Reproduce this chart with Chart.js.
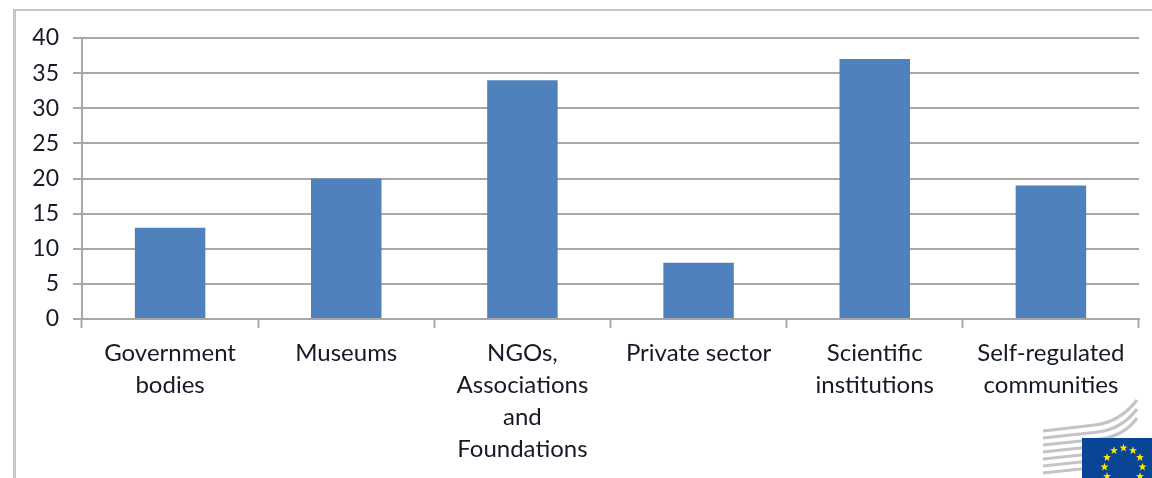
<!DOCTYPE html>
<html>
<head>
<meta charset="utf-8">
<title>Organisations by type</title>
<script src="https://cdn.jsdelivr.net/npm/chart.js@4/dist/chart.umd.min.js"></script>
<style>
    html, body { margin: 0; padding: 0; background: #fff; overflow: hidden; }
    #wrap { position: relative; width: 1152px; height: 478px; }
    #frame {
        position: absolute; left: 13px; top: 9px; right: 0; bottom: 0;
        border-left: 3px solid #c6c6c6; border-top: 2px solid #c6c6c6;
    }
    #bars { position: absolute; left: 0; top: 0; width: 1152px; height: 478px; filter: blur(0.4px); }
    #logo { position: absolute; left: 1040px; top: 398px; filter: blur(0.3px); }
</style>
</head>
<body>
<div id="wrap">
    <div id="frame"></div>
    <canvas id="bars" width="1152" height="478"></canvas>
    <svg id="logo" width="112" height="80" viewBox="1040 398 112 80">
        <g fill="none" stroke="#c4c4c4" stroke-width="3.2">
            <path d="M1043 431 L1095 425 Q1120 422 1137 400"/>
            <path d="M1043 438 L1098 432 Q1122 429 1137 409"/>
            <path d="M1043 445 L1100 439 Q1124 436 1137 418"/>
            <path d="M1043 452 L1090 447"/>
            <path d="M1043 459 L1090 454"/>
            <path d="M1043 466 L1090 461"/>
            <path d="M1043 473 L1090 468"/>
        </g>
        <rect x="1082" y="438" width="70" height="40" fill="#0a4595"/>
        <g id="stars" fill="#ffe600"></g>
    </svg>
</div>
<script>
const categories = [
    ['Government', 'bodies'],
    'Museums',
    ['NGOs,', 'Associations', 'and', 'Foundations'],
    'Private sector',
    ['Scientific', 'institutions'],
    ['Self-regulated', 'communities']
];
const seriesValues = [13, 20, 34, 8, 37, 19];
const yTickLabels = [0, 5, 10, 15, 20, 25, 30, 35, 40];

// EU flag stars for the logo in the corner
function drawStars() {
    const group = document.getElementById('stars');
    let markup = '';
    for (let i = 0; i < 12; i++) {
        const angle = i * Math.PI / 6;
        const cx = 1123.5 + 19 * Math.sin(angle);
        const cy = 467 - 19 * Math.cos(angle);
        let pts = [];
        for (let k = 0; k < 10; k++) {
            const r = k % 2 ? 1.7 : 4.2;
            const a = k * Math.PI / 5;
            pts.push((cx + r * Math.sin(a)).toFixed(1) + ',' + (cy - r * Math.cos(a)).toFixed(1));
        }
        markup += '<polygon points="' + pts.join(' ') + '"/>';
    }
    group.innerHTML = markup;
}
drawStars();

const axisGrey = '#a8a8a8';
const textColor = '#141a26';
const fontFamily = 'Lato, Carlito, sans-serif';

new Chart(document.getElementById('bars').getContext('2d'), {
    type: 'bar',
    data: {
        labels: categories,
        datasets: [{
            data: seriesValues,
            backgroundColor: '#4f81bd',
            categoryPercentage: 1,
            barPercentage: 0.4
        }]
    },
    options: {
        responsive: false,
        animation: false,
        layout: { padding: { top: 38, right: 13, left: 0, bottom: 0 } },
        plugins: { legend: { display: false }, tooltip: { enabled: false } },
        scales: {
            x: {
                afterFit: (scale) => { scale.height = 159; },
                grid: {
                    offset: true,
                    drawOnChartArea: false,
                    tickLength: 9,
                    tickColor: axisGrey,
                    tickWidth: 2
                },
                border: { color: axisGrey, width: 2 },
                ticks: {
                    autoSkip: false,
                    maxRotation: 0,
                    padding: 9,
                    color: textColor,
                    font: { family: fontFamily, size: 24, lineHeight: 1.335 }
                }
            },
            y: {
                min: 0,
                max: 40,
                afterFit: (scale) => { scale.width = 82; },
                afterBuildTicks: (scale) => { scale.ticks = yTickLabels.map((v) => ({ value: v })); },
                grid: { color: axisGrey, lineWidth: 2, tickLength: 9, tickColor: axisGrey },
                border: { color: axisGrey, width: 2 },
                ticks: { padding: 14, color: textColor, font: { family: fontFamily, size: 23 } }
            }
        }
    }
});
</script>
</body>
</html>
